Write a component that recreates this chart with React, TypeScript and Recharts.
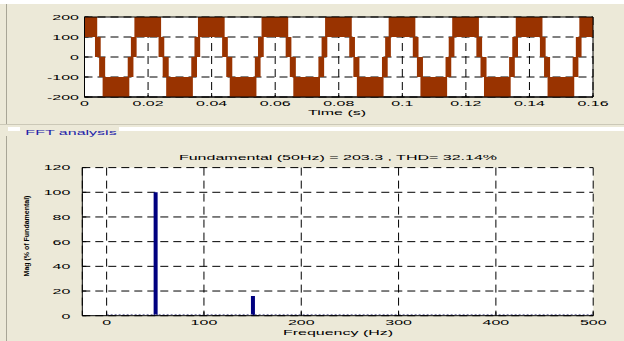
import React from "react";
import {
  ComposedChart,
  Bar,
  XAxis,
  YAxis,
  CartesianGrid,
  ReferenceArea,
  ReferenceLine,
} from "recharts";

// time-domain panel (5-level stepped waveform, switching bands)
const TIME_TICKS = [0, 0.02, 0.04, 0.06, 0.08, 0.1, 0.12, 0.14, 0.16];
const WAVE_TICKS = [-200, -100, 0, 100, 200];

// intervals [t start, t end] in seconds where the waveform sits in each band
const TOP_BAND = [
  [0, 0.004], [0.0157, 0.0241], [0.0357, 0.0441], [0.0557, 0.0641], [0.0757, 0.0841],
  [0.0957, 0.1041], [0.1157, 0.1241], [0.1357, 0.1441], [0.1557, 0.16],
];
const UPPER_BAND = [
  [0.0033, 0.0051], [0.0146, 0.0164], [0.0233, 0.0251], [0.0346, 0.0364],
  [0.0433, 0.0451], [0.0546, 0.0564], [0.0633, 0.0651], [0.0746, 0.0764],
  [0.0833, 0.0851], [0.0946, 0.0964], [0.1033, 0.1051], [0.1146, 0.1164],
  [0.1233, 0.1251], [0.1346, 0.1364], [0.1433, 0.1451], [0.1546, 0.1564],
];
const LOWER_BAND = [
  [0.0046, 0.0065], [0.0136, 0.0154], [0.0246, 0.0265], [0.0336, 0.0354],
  [0.0446, 0.0465], [0.0536, 0.0554], [0.0646, 0.0665], [0.0736, 0.0754],
  [0.0846, 0.0865], [0.0936, 0.0954], [0.1046, 0.1065], [0.1136, 0.1154],
  [0.1246, 0.1265], [0.1336, 0.1354], [0.1446, 0.1465], [0.1536, 0.1554],
];
const BOTTOM_BAND = [
  [0.0057, 0.0141], [0.0257, 0.0341], [0.0457, 0.0541], [0.0657, 0.0741],
  [0.0857, 0.0941], [0.1057, 0.1141], [0.1257, 0.1341], [0.1457, 0.1541],
];
const BANDS: [number[][], number, number][] = [
  [TOP_BAND, 100, 200],
  [UPPER_BAND, 0, 100],
  [LOWER_BAND, -100, 0],
  [BOTTOM_BAND, -200, -100],
];

// FFT panel
const FREQS = [50, 150];
const MAGS = [100, 16];
const FREQ_TICKS = [0, 100, 200, 300, 400, 500];
const MAG_TICKS = [0, 20, 40, 60, 80, 100, 120];

const BG = "#ECE9D8";
const WAVE = "#993300";
const BARS = "#00007F";
const FONT = "'Liberation Sans', Arial, sans-serif";
const SX = 2.0; // the screenshot is stretched sideways
const DASH = "8 5";

const fftData = FREQS.map((f, i) => ({ f, mag: MAGS[i] }));

function Tick(props: any) {
  const { x, y, payload, anchor } = props;
  return (
    <g transform={`translate(${x},${y})`}>
      <text
        transform={`scale(${SX},1)`}
        textAnchor={anchor}
        dy="0.36em"
        fontSize={8}
        fontFamily={FONT}
        fill="#000"
      >
        {payload.value}
      </text>
    </g>
  );
}

function Txt({ x, y, size = 8, color = "#000", rotate = false, bold = false, children }: any) {
  return (
    <div
      style={{
        position: "absolute",
        left: x,
        top: y,
        transform: rotate
          ? "translate(-50%,-50%) rotate(-90deg)"
          : `translate(-50%,-50%) scaleX(${SX})`,
        fontFamily: FONT,
        fontSize: size,
        fontWeight: bold ? "bold" : "normal",
        color,
        whiteSpace: "nowrap",
        lineHeight: 1,
      }}
    >
      {children}
    </div>
  );
}

const xTick = (p: any) => <Tick {...p} anchor="middle" />;
const yTick = (p: any) => <Tick {...p} anchor="end" />;

const TOP_MARGIN = { top: 17, right: 31, bottom: 0, left: 0 };
const TOP_PLOT = { top: 17, right: 31, bottom: 23, left: 84.5 };

export default function App() {
  return (
    <div
      style={{
        position: "absolute",
        left: 0,
        top: 0,
        width: 624,
        height: 341,
        background: "#fff",
        overflow: "hidden",
      }}
    >
      <div style={{ position: "absolute", left: 0, top: 4, width: 624, height: 337, background: BG }} />
      {/* panel borders */}
      <div style={{ position: "absolute", left: 6, top: 4, width: 1, height: 120, background: "#A8A596" }} />
      <div style={{ position: "absolute", left: 0, top: 124, width: 624, height: 1, background: "#CBC8B7" }} />
      <div style={{ position: "absolute", left: 8, top: 127, width: 616, height: 4, background: "#fff" }} />
      <div style={{ position: "absolute", left: 6, top: 136, width: 1, height: 205, background: "#A8A596" }} />
      <div style={{ position: "absolute", left: 20, top: 126, width: 99, height: 13, background: BG }} />
      <Txt x={71} y={133} color="#2323A8">FFT analysis</Txt>

      {/* time domain: grid + axes underneath */}
      <div style={{ position: "absolute", left: 0, top: 0 }}>
        <ComposedChart width={624} height={120} data={[]} margin={TOP_MARGIN}>
          <CartesianGrid stroke="#000" strokeDasharray={DASH} fill="#fff" fillOpacity={1} />
          <XAxis
            type="number"
            dataKey="t"
            domain={[0, 0.16]}
            ticks={TIME_TICKS}
            interval={0}
            allowDataOverflow
            height={23}
            tick={xTick}
            tickSize={-4}
            tickMargin={10.3}
            tickLine={{ stroke: "#000" }}
            axisLine={{ stroke: "#000" }}
          />
          <YAxis
            type="number"
            domain={[-200, 200]}
            ticks={WAVE_TICKS}
            interval={0}
            allowDataOverflow
            width={84.5}
            tick={yTick}
            tickSize={-4}
            tickMargin={9.5}
            tickLine={{ stroke: "#000" }}
            axisLine={{ stroke: "#000" }}
          />
        </ComposedChart>
      </div>
      {/* time domain: waveform bands on top of the grid */}
      <div style={{ position: "absolute", left: 0, top: 0 }}>
        <ComposedChart width={624} height={120} data={[]} margin={TOP_PLOT}>
          <XAxis type="number" dataKey="t" domain={[0, 0.16]} allowDataOverflow hide />
          <YAxis type="number" domain={[-200, 200]} allowDataOverflow hide />
          {BANDS.map(([spans, lo, hi]) =>
            spans.map(([a, b], i) => (
              <ReferenceArea
                key={`${lo}-${i}`}
                x1={a}
                x2={b}
                y1={lo}
                y2={hi}
                fill={WAVE}
                fillOpacity={1}
                stroke="none"
                ifOverflow="hidden"
              />
            ))
          )}
          <ReferenceArea x1={0} x2={0.16} y1={-200} y2={200} fill="none" stroke="#000" strokeWidth={1} />
        </ComposedChart>
      </div>
      <Txt x={337} y={113}>Time (s)</Txt>

      {/* FFT spectrum */}
      <div style={{ position: "absolute", left: 0, top: 140 }}>
        <ComposedChart width={624} height={201} data={fftData} margin={{ top: 27.6, right: 30.8, bottom: 0, left: 0 }}>
          <CartesianGrid stroke="#000" strokeDasharray={DASH} fill="#fff" fillOpacity={1} />
          <XAxis
            type="number"
            dataKey="f"
            domain={[-25, 500]}
            ticks={FREQ_TICKS}
            interval={0}
            allowDataOverflow
            height={25.3}
            tick={xTick}
            tickSize={-4}
            tickMargin={10.3}
            tickLine={{ stroke: "#000" }}
            axisLine={{ stroke: "#000" }}
          />
          <XAxis xAxisId="top" orientation="top" type="number" domain={[-25, 500]} height={0} tick={false} tickLine={false} axisLine={{ stroke: "#000" }} />
          <YAxis
            type="number"
            domain={[0, 120]}
            ticks={MAG_TICKS}
            interval={0}
            allowDataOverflow
            width={82.3}
            tick={yTick}
            tickSize={-4}
            tickMargin={16}
            tickLine={{ stroke: "#000" }}
            axisLine={{ stroke: "#000" }}
          />
          <YAxis yAxisId="right" orientation="right" domain={[0, 120]} width={0} tick={false} tickLine={false} axisLine={{ stroke: "#000" }} />
          <ReferenceLine
            segment={[{ x: 0, y: 1 }, { x: 500, y: 1 }]}
            stroke="#8080A8"
            strokeDasharray="2 2"
          />
          <Bar dataKey="mag" fill={BARS} barSize={4} isAnimationActive={false} />
        </ComposedChart>
      </div>
      <Txt x={338} y={158}>Fundamental (50Hz) = 203.3 , THD= 32.14%</Txt>
      <Txt x={338} y={333}>Frequency (Hz)</Txt>
      <Txt x={26} y={236} size={7} bold rotate>Mag (% of Fundamental)</Txt>
    </div>
  );
}
